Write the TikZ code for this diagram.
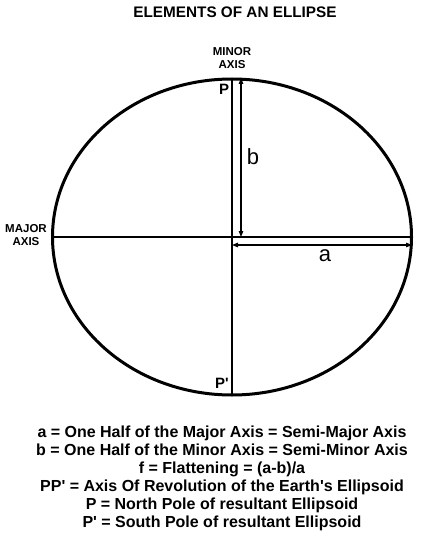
\documentclass[tikz,border=0pt]{standalone}
\usepackage{fontspec}
\newfontfamily\arialfont{Liberation Sans}
\usetikzlibrary{arrows.meta}
\tikzset{
  every node/.style={font=\arialfont},
  axisline/.style={line width=1.2pt},
  dimline/.style={line width=1.2pt,{Triangle[length=6pt,width=4.5pt]}-{Triangle[length=6pt,width=4.5pt]}},
  smalllabel/.style={font=\arialfont\bfseries\fontsize{11.5}{13}\selectfont,align=center,inner sep=0pt},
  polelabel/.style={font=\arialfont\bfseries\fontsize{15}{16}\selectfont,inner sep=0pt},
  dimlabel/.style={font=\arialfont\fontsize{22}{24}\selectfont,inner sep=0pt}
}

\begin{document}
\begin{tikzpicture}[x=1pt,y=-1pt]
\useasboundingbox (0,0) rectangle (433,540);
\coordinate (centre) at (232,237);
\coordinate (north) at (232,78);
\coordinate (south) at (232,394);
\coordinate (west) at (53,237);
\coordinate (east) at (412,237);
\coordinate (btop) at (241,78);
\coordinate (bbot) at (241,237);
\coordinate (aleft) at (232,245);
\coordinate (aright) at (412,245);
% title
\node[font=\arialfont\bfseries\fontsize{15.3}{17}\selectfont,inner sep=0pt] (title) at (235,12) {ELEMENTS OF AN ELLIPSE};
% ellipse and axes
\draw[line width=3pt] (centre) ellipse [x radius=179.5pt,y radius=158pt];
\draw[axisline] (north) -- (south);
\draw[axisline] (west) -- (east);
% semi-axes
\draw[dimline] (btop) -- (bbot);
\draw[dimline] (aleft) -- (aright);
\node[dimlabel] (blabel) at (253,157) {b};
\node[dimlabel] (alabel) at (325,256) {a};
% labels
\node[smalllabel] (minor) at (232,58) {MINOR\\AXIS};
\node[smalllabel] (major) at (26,235) {MAJOR\\AXIS};
\node[polelabel] (P) at (224,89) {P};
\node[polelabel] (Pp) at (222,383) {P'};
% legend
\node[font=\arialfont\bfseries\fontsize{16}{18}\selectfont,align=center,inner sep=0pt] (legend) at (222,478) {a = One Half of the Major Axis = Semi-Major Axis\\
b = One Half of the Minor Axis = Semi-Minor Axis\\
f = Flattening = (a-b)/a\\
PP' = Axis Of Revolution of the Earth's Ellipsoid\\
P = North Pole of resultant Ellipsoid\\
P' = South Pole of resultant Ellipsoid};
\end{tikzpicture}
\end{document}
